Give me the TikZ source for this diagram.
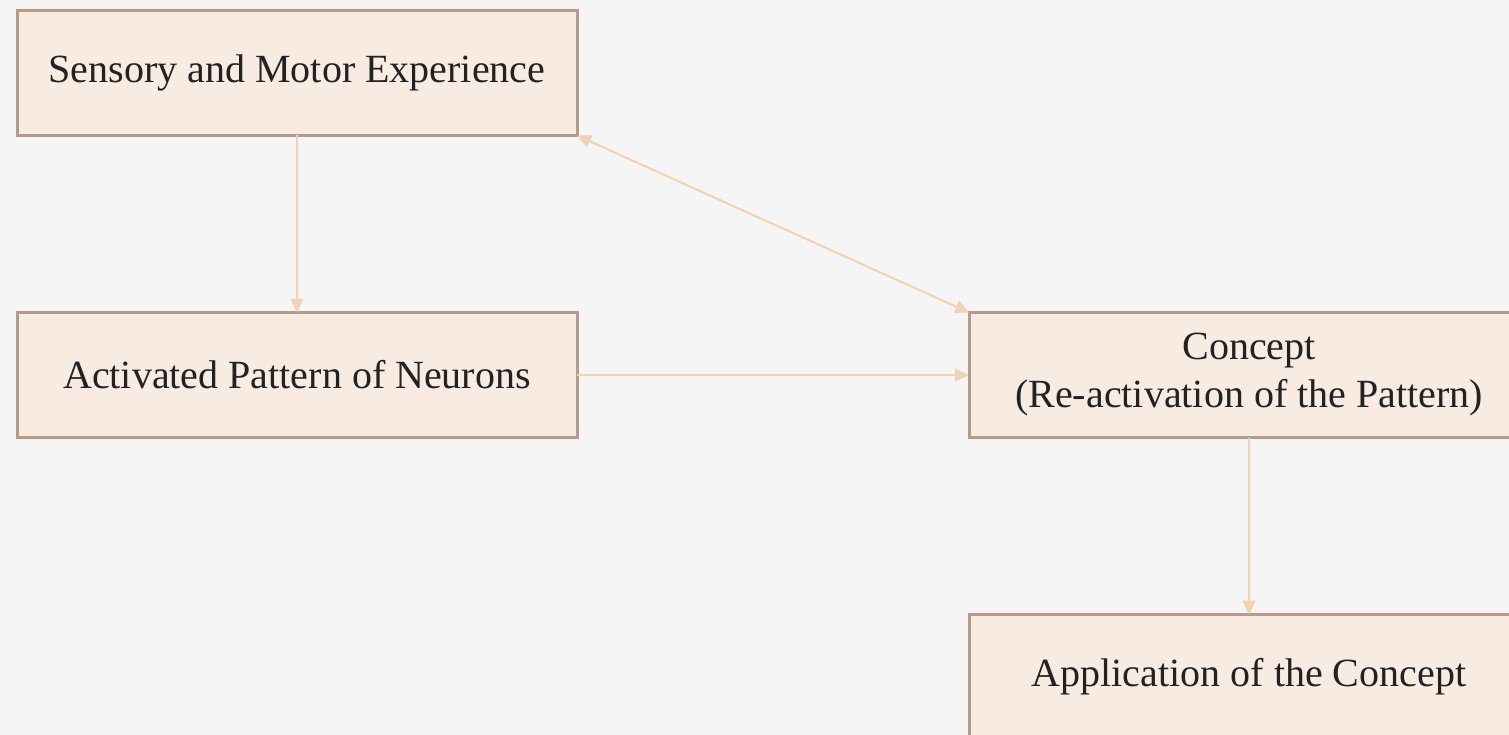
\documentclass[tikz,border=0pt]{standalone}
\usepackage{fontspec}
\setmainfont{Liberation Serif}
\usepackage{xcolor}
\usetikzlibrary{arrows.meta,positioning}

\definecolor{pagebg}{HTML}{F5F5F5}
\definecolor{boxfill}{HTML}{F7EBE2}
\definecolor{boxline}{HTML}{B59C89}
\definecolor{linkline}{HTML}{F0D2B4}
\definecolor{textdark}{HTML}{222222}

\tikzset{
    stage/.style={draw=boxline, line width=3pt, fill=boxfill,
        minimum width=560pt, minimum height=125pt, inner sep=0pt, outer sep=0pt,
        align=center, text=textdark, font=\fontsize{40}{48}\selectfont},
    link/.style={draw=linkline, line width=2pt, -{Triangle[length=14pt,width=13pt]}},
}

\begin{document}
\begin{tikzpicture}[x=1pt,y=-1pt]
    % Canvas
    \useasboundingbox (0,0) rectangle (1509,735);
    \fill[pagebg] (0,0) rectangle (1509,735);
    \clip (0,0) rectangle (1509,735);

    % Stages
    \node[stage] (sense) at (297,73) {Sensory and Motor Experience};
    \node[stage, below=177pt of sense] (pattern) {Activated Pattern of Neurons};
    \node[stage, right=392pt of pattern] (concept) {Concept\\(Re-activation of the Pattern)};
    \node[stage, below=177pt of concept] (apply) {Application of the Concept};

    % Links
    \draw[link] (sense) -- (pattern);
    \draw[link] (pattern) -- (concept);
    \draw[link, {Triangle[length=14pt,width=13pt]}-{Triangle[length=14pt,width=13pt]}] (sense.south east) -- (concept.north west);
    \draw[link] (concept) -- (apply);
\end{tikzpicture}
\end{document}
